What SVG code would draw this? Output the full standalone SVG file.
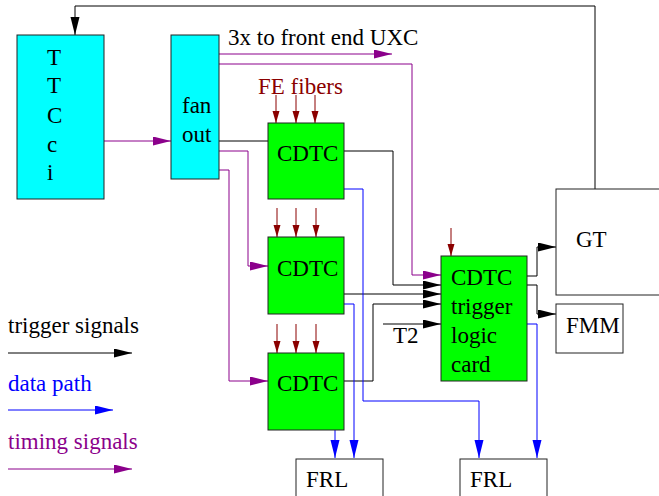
<svg xmlns="http://www.w3.org/2000/svg" width="659" height="496" viewBox="0 0 659 496" font-family="Liberation Serif, Times New Roman, serif" font-size="23">
<style>
.box{stroke:#222;stroke-width:1}
.cyan{fill:#00ffff}
.green{fill:#00ff00}
.white{fill:#fff}
.k{fill:none;stroke:#000;stroke-width:1}
.b{fill:none;stroke:#0000ff;stroke-width:1}
.p{fill:none;stroke:#8b008b;stroke-width:1}
.r{fill:none;stroke:#8b0000;stroke-width:1}
</style>
<defs>
<marker id="ak" markerUnits="userSpaceOnUse" markerWidth="18" markerHeight="10" refX="18" refY="4.5" orient="auto"><path d="M0,0 L18,4.5 L0,9 z" fill="#000"/></marker>
<marker id="ab" markerUnits="userSpaceOnUse" markerWidth="18" markerHeight="10" refX="18" refY="4.5" orient="auto"><path d="M0,0 L18,4.5 L0,9 z" fill="#0000ff"/></marker>
<marker id="ap" markerUnits="userSpaceOnUse" markerWidth="18" markerHeight="10" refX="18" refY="4.5" orient="auto"><path d="M0,0 L18,4.5 L0,9 z" fill="#8b008b"/></marker>
<marker id="ar" markerUnits="userSpaceOnUse" markerWidth="12" markerHeight="8" refX="12" refY="3.5" orient="auto"><path d="M0,0 L12,3.5 L0,7 z" fill="#8b0000"/></marker>
</defs>
<rect width="659" height="496" fill="#fff"/>

<g id="connectors">
<polyline class="k" points="595,189 595,6 75,6 75,35" marker-end="url(#ak)"/>
<line class="p" x1="104" y1="141" x2="171" y2="141" marker-end="url(#ap)"/>
<line class="p" x1="219" y1="54" x2="392" y2="54" marker-end="url(#ap)"/>
<polyline class="p" points="219,64 412,64 412,275 441,275" marker-end="url(#ap)"/>
<polyline class="p" points="219,151 248,151 248,266 268,266" marker-end="url(#ap)"/>
<polyline class="p" points="219,170 229,170 229,381 268,381" marker-end="url(#ap)"/>
<line class="k" x1="219" y1="141" x2="268" y2="141"/>
<line class="r" x1="276" y1="95" x2="276" y2="123" marker-end="url(#ar)"/>
<line class="r" x1="296" y1="95" x2="296" y2="123" marker-end="url(#ar)"/>
<line class="r" x1="315" y1="95" x2="315" y2="123" marker-end="url(#ar)"/>
<line class="r" x1="277" y1="208" x2="277" y2="237" marker-end="url(#ar)"/>
<line class="r" x1="296" y1="208" x2="296" y2="237" marker-end="url(#ar)"/>
<line class="r" x1="316" y1="208" x2="316" y2="237" marker-end="url(#ar)"/>
<line class="r" x1="277" y1="324" x2="277" y2="353" marker-end="url(#ar)"/>
<line class="r" x1="296" y1="324" x2="296" y2="353" marker-end="url(#ar)"/>
<line class="r" x1="316" y1="324" x2="316" y2="353" marker-end="url(#ar)"/>
<line class="r" x1="451" y1="228" x2="451" y2="256" marker-end="url(#ar)"/>
<polyline class="k" points="344,151 393,151 393,285 441,285" marker-end="url(#ak)"/>
<line class="k" x1="344" y1="294" x2="441" y2="294" marker-end="url(#ak)"/>
<polyline class="k" points="344,381 373,381 373,304 441,304" marker-end="url(#ak)"/>
<line class="k" x1="383" y1="324" x2="441" y2="324" marker-end="url(#ak)"/>
<polyline class="k" points="518,276 537,276 537,247 556,247" marker-end="url(#ak)"/>
<polyline class="k" points="518,285 537,285 537,314 556,314" marker-end="url(#ak)"/>
<polyline class="b" points="344,189 363,189 363,401 479,401 479,458" marker-end="url(#ab)"/>
<polyline class="b" points="344,304 354,304 354,458" marker-end="url(#ab)"/>
<line class="b" x1="335" y1="430" x2="335" y2="458" marker-end="url(#ab)"/>
<polyline class="b" points="518,324 537,324 537,458" marker-end="url(#ab)"/>
</g>

<g id="ttcci">
<rect class="box cyan" x="17" y="35" width="87" height="164"/>
<text x="47" y="65">T</text>
<text x="47" y="93">T</text>
<text x="47" y="123">C</text>
<text x="47" y="152">c</text>
<text x="47" y="180">i</text>
</g>
<g id="fanout">
<rect class="box cyan" x="171" y="35" width="48" height="144"/>
<text x="182" y="113">fan</text>
<text x="182" y="142">out</text>
</g>
<g id="label-uxc"><text x="228" y="45">3x to front end UXC</text></g>
<g id="label-fe"><text x="258" y="94" fill="#8b0000">FE fibers</text></g>
<g id="cdtc1">
<rect class="box green" x="268" y="123" width="76" height="76"/>
<text x="277" y="161">CDTC</text>
</g>
<g id="cdtc2">
<rect class="box green" x="268" y="237" width="76" height="77"/>
<text x="277" y="276">CDTC</text>
</g>
<g id="cdtc3">
<rect class="box green" x="268" y="353" width="76" height="77"/>
<text x="277" y="391">CDTC</text>
</g>
<g id="trigger-card">
<rect class="box green" x="441" y="256" width="86" height="125"/>
<text x="451" y="285">CDTC</text>
<text x="451" y="314">trigger</text>
<text x="451" y="343">logic</text>
<text x="451" y="372">card</text>
</g>
<g id="t2"><text x="393" y="343">T2</text></g>
<g id="gt">
<rect class="box white" x="556" y="189" width="110" height="106"/>
<text x="576" y="247">GT</text>
</g>
<g id="fmm">
<rect class="box white" x="556" y="304" width="67" height="49"/>
<text x="566" y="333">FMM</text>
</g>
<g id="frl1">
<rect class="box white" x="296" y="459" width="87" height="45"/>
<text x="306" y="487">FRL</text>
</g>
<g id="frl2">
<rect class="box white" x="460" y="459" width="87" height="45"/>
<text x="470" y="487">FRL</text>
</g>
<g id="legend">
<text x="8" y="333">trigger signals</text>
<line class="k" x1="8" y1="353" x2="132" y2="353" marker-end="url(#ak)"/>
<text x="8" y="391" fill="#0000ff">data path</text>
<line class="b" x1="8" y1="410" x2="113" y2="410" marker-end="url(#ab)"/>
<text x="8" y="449" fill="#8b008b">timing signals</text>
<line class="p" x1="8" y1="469" x2="132" y2="469" marker-end="url(#ap)"/>
</g>
</svg>
